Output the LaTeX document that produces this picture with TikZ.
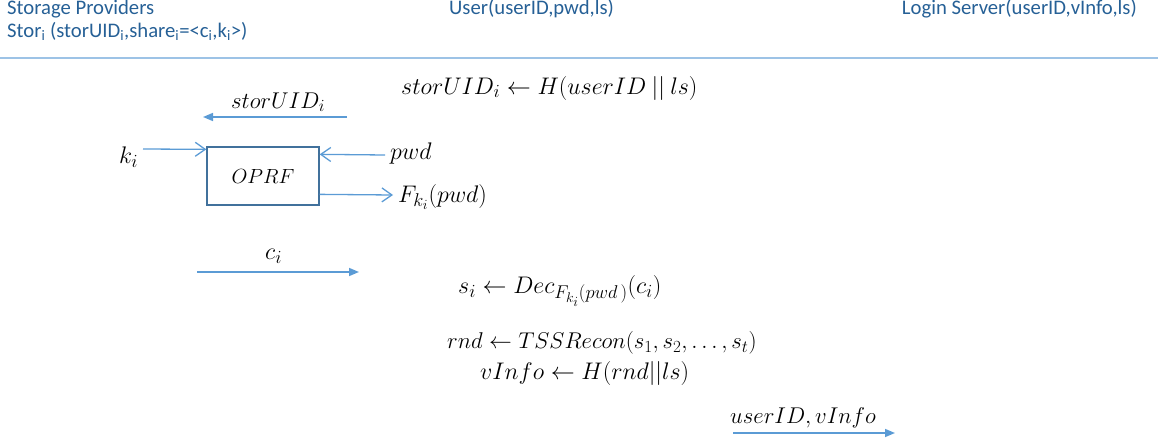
\RequirePackage{fix-cm}
\documentclass[tikz,border=0pt]{standalone}
\usepackage{fontspec}
\setmainfont{Carlito}
\usetikzlibrary{arrows.meta,calc}
\DeclareMathSizes{24}{24}{18.5}{14}
\DeclareMathSizes{23}{23}{17}{13}
\DeclareMathSizes{22.8}{22.8}{17}{13}
\DeclareMathSizes{20.5}{20.5}{15}{11}
\definecolor{hdrblue}{RGB}{38,96,150}
\definecolor{seplight}{RGB}{157,195,230}
\definecolor{arrblue}{RGB}{91,155,213}
\definecolor{boxblue}{RGB}{65,113,156}
\tikzset{
  hdr/.style={inner sep=0pt, text=hdrblue, font=\fontsize{20.7}{24}\selectfont},
  mth/.style={inner sep=0pt, font=\fontsize{24}{28}\selectfont},
  mthsmall/.style={inner sep=0pt, font=\fontsize{22.8}{27}\selectfont},
  sepline/.style={draw=seplight, line width=1.8pt},
  msgarrow/.style={draw=arrblue, line width=1.5pt, -{Triangle[length=10pt,width=8pt]}},
  openarrow/.style={draw=arrblue, line width=1.3pt, -{Straight Barb[length=10pt,width=14pt,line width=1.3pt]}},
  oprfbox/.style={draw=boxblue, line width=1.3pt, minimum width=112pt, minimum height=58pt, inner sep=0pt, font=\fontsize{20.5}{24}\selectfont}
}
\begin{document}
\begin{tikzpicture}[x=1pt,y=-1pt]
\useasboundingbox (0,0) rectangle (1158,444);
% headers
\node[hdr, anchor=west] (sp) at (7,9) {Storage Providers};
\node[hdr, anchor=west] (stor) at (7,31) {Stor\textsubscript{i} (storUID\textsubscript{i},share\textsubscript{i}=<c\textsubscript{i},k\textsubscript{i}>)};
\node[hdr, anchor=west] (user) at (449,9) {User(userID,pwd,ls)};
\node[hdr, anchor=east] (lsrv) at (1137,9) {Login Server(userID,vInfo,ls)};
\coordinate (sepL) at (0,58);
\coordinate (sepR) at (1158,58);
\draw[sepline] (sepL) -- (sepR);
% storUID
\node[mth, anchor=west] (hash) at (401,88) {$storUID_i \leftarrow H(userID \mathbin{||} ls)$};
\node[mthsmall, anchor=west] (suidlbl) at (231,102) {$storUID_i$};
\coordinate (suidA) at (347,117);
\coordinate (suidB) at (203,117);
\draw[msgarrow] (suidA) -- (suidB);
% OPRF
\node[oprfbox] (oprf) at (263,176) {$OPRF$};
\node[mth, anchor=west] (ki) at (119,157) {$k_i$};
\coordinate (kiA) at (143,149);
\draw[openarrow] (kiA) -- ($(oprf.north west)+(0,3)$);
\node[mth, anchor=west] (pwd) at (390,153) {$pwd$};
\coordinate (pwdA) at (385,155);
\draw[openarrow] (pwdA) -- ($(oprf.north east)+(0,8)$);
\coordinate (fB) at (393,195);
\node[mth, anchor=west] (fout) at (398,197) {$F_{k_i}(pwd)$};
\draw[openarrow] ($(oprf.north east)+(0,48)$) -- (fB);
% c_i
\node[mth, anchor=west] (cilbl) at (265,256) {$c_i$};
\coordinate (ciA) at (197,272);
\coordinate (ciB) at (359,272);
\draw[msgarrow] (ciA) -- (ciB);
% computations
\node[mth, anchor=west] (dec) at (458,291) {$s_i \leftarrow Dec_{F_{k_i}(pwd\,)}(c_i)$};
\node[mthsmall, anchor=west] (rnd) at (447,343) {$rnd \leftarrow TSSRecon(s_1, s_2, \ldots, s_t)$};
\node[mth, anchor=west] (vinfo) at (480,373) {$vInfo \leftarrow H(rnd||ls)$};
% final message
\node[mthsmall, anchor=west] (uvlbl) at (730,418) {$userID, vInfo$};
\coordinate (uvA) at (733,433);
\coordinate (uvB) at (895,433);
\draw[msgarrow] (uvA) -- (uvB);
\end{tikzpicture}
\end{document}
